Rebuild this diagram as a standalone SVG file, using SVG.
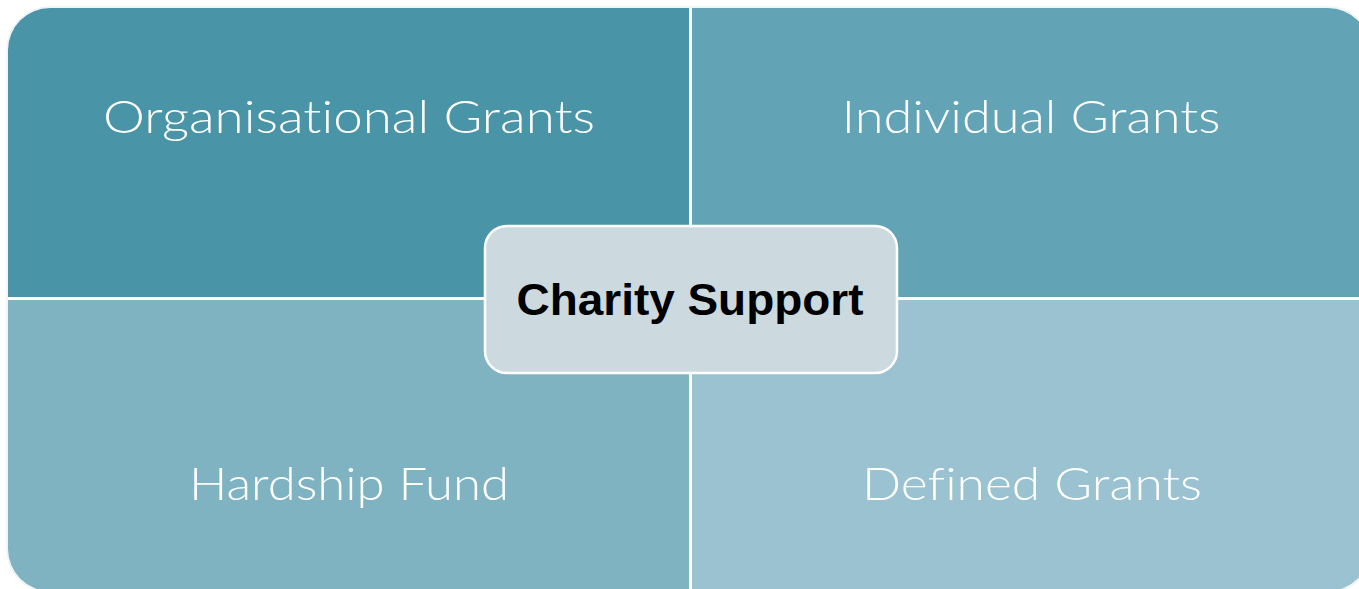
<svg xmlns="http://www.w3.org/2000/svg" width="1359" height="589" viewBox="0 0 1359 589">
<style>
.q{font-family:"Lato","Open Sans","Liberation Sans",sans-serif;font-size:46px;fill:#ffffff;text-anchor:middle;font-weight:300;font-variant-ligatures:none}
.c{font-family:"Liberation Sans","DejaVu Sans",sans-serif;font-size:45px;font-weight:bold;fill:#000000;text-anchor:middle}
</style>
<defs>
<clipPath id="outer"><rect x="8" y="8" width="1362" height="583" rx="42" ry="42"/></clipPath>
</defs>
<rect width="1359" height="589" fill="#ffffff"/>
<rect x="7" y="7" width="1364" height="585" rx="43" ry="43" fill="none" stroke="#eef2f4" stroke-width="1.5"/>
<g clip-path="url(#outer)">
<g id="organisational">
<rect x="8" y="8" width="681" height="289" fill="#4A94A8"/>
<text class="q" x="349" y="133" textLength="492" lengthAdjust="spacingAndGlyphs">Organisational Grants</text>
</g>
<g id="individual">
<rect x="692" y="8" width="680" height="289" fill="#62A4B6"/>
<text class="q" x="1031" y="133" textLength="379" lengthAdjust="spacingAndGlyphs">Individual Grants</text>
</g>
<g id="hardship">
<rect x="8" y="300" width="681" height="292" fill="#7FB3C2"/>
<text class="q" x="349" y="500" textLength="320" lengthAdjust="spacingAndGlyphs">Hardship Fund</text>
</g>
<g id="defined">
<rect x="692" y="300" width="680" height="292" fill="#9AC2D0"/>
<text class="q" x="1032" y="500" textLength="340" lengthAdjust="spacingAndGlyphs">Defined Grants</text>
</g>
</g>
<g id="connectors"></g>
<g id="charity-support">
<rect x="485" y="226" width="412" height="147" rx="22" ry="22" fill="#CCDAE0" stroke="#ffffff" stroke-width="2.5"/>
<text class="c" x="690" y="315" textLength="347" lengthAdjust="spacingAndGlyphs">Charity Support</text>
</g>
</svg>
